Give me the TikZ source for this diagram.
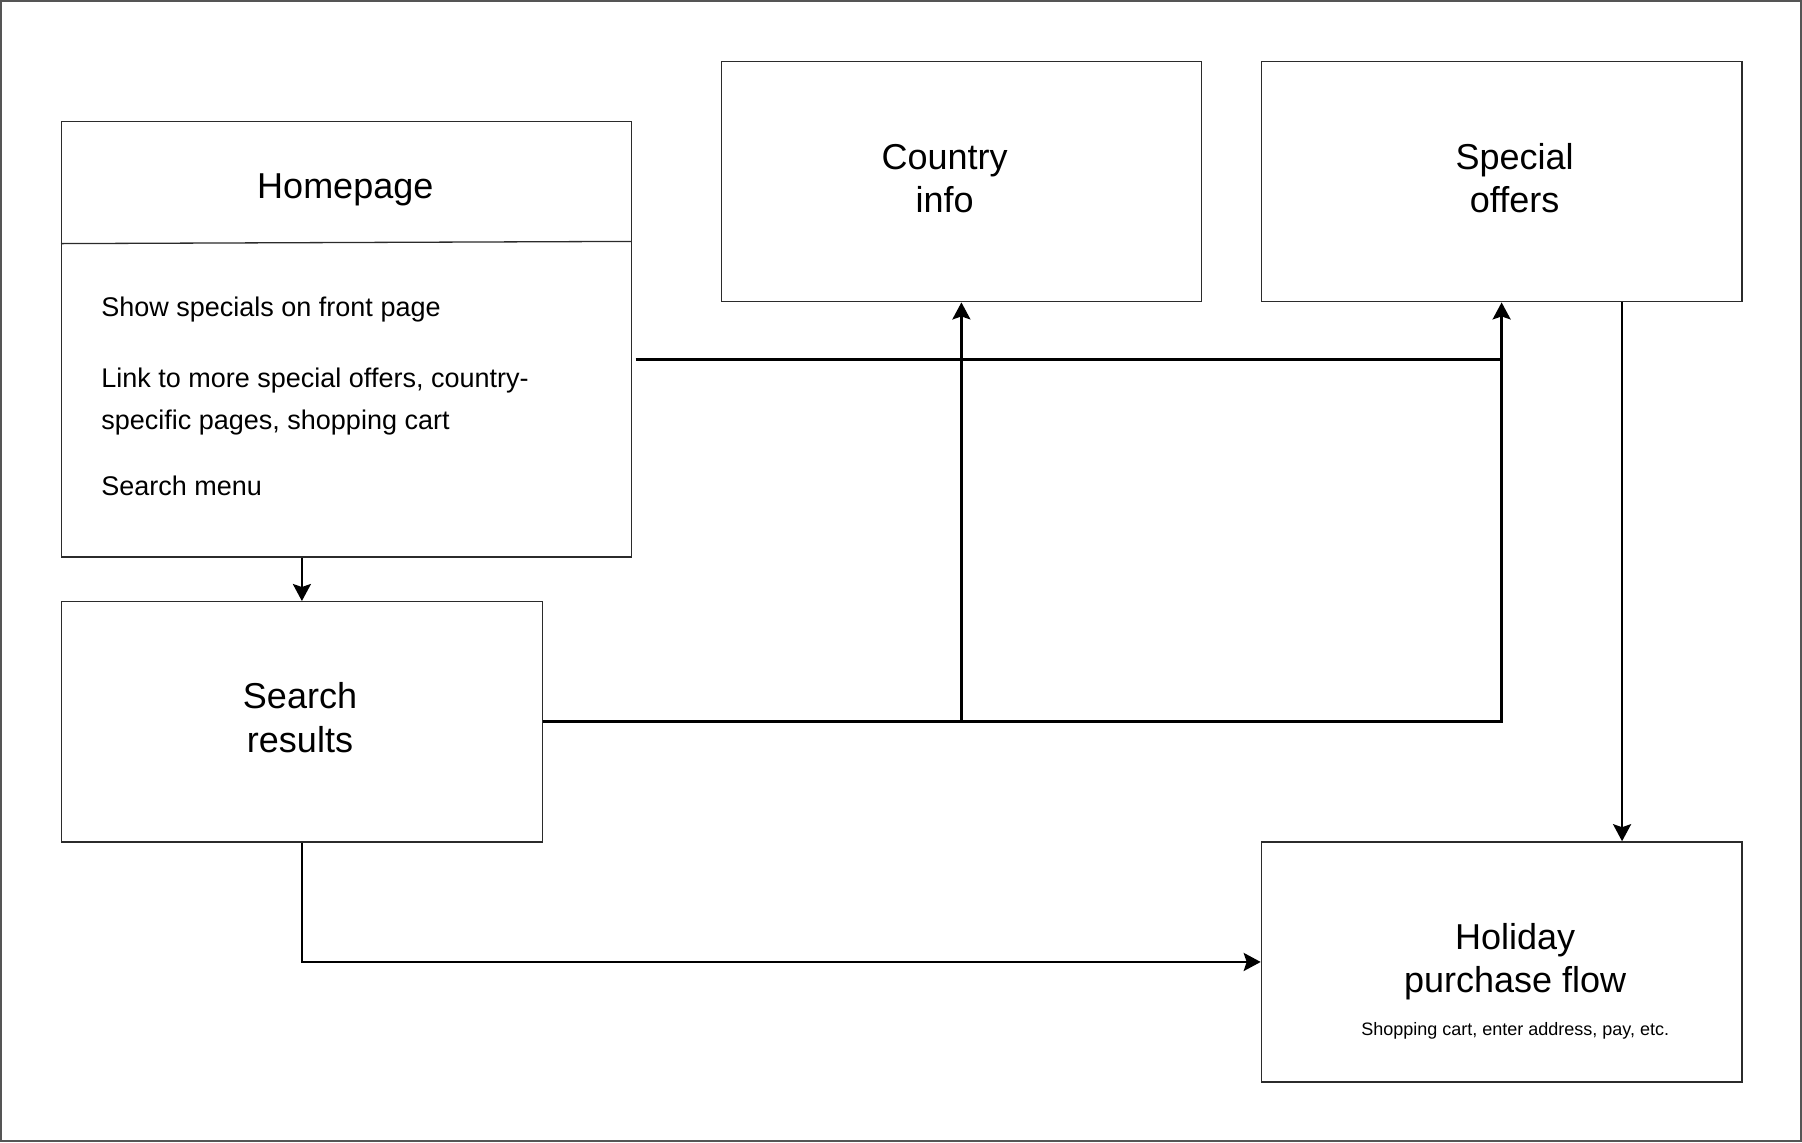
\documentclass[tikz,border=0pt]{standalone}
\usepackage{fontspec}
\setmainfont{Liberation Sans}
\usetikzlibrary{arrows.meta,calc}
\definecolor{boxgray}{HTML}{2B2B2B}
\definecolor{framegray}{HTML}{555555}
\tikzset{
  box/.style={draw=boxgray, line width=0.65pt, inner sep=0pt, anchor=north west, fill=white},
  bigbox/.style={box, minimum width=240.25pt, minimum height=120.1pt},
  title/.style={font=\fontsize{18}{21.6}\selectfont, align=center, inner sep=0pt},
  body/.style={font=\fontsize{13.5}{16}\selectfont, anchor=base west, inner sep=0pt},
  small/.style={font=\fontsize{9}{11}\selectfont, inner sep=0pt},
  conn/.style={draw=black, line width=1.3pt},
  arr/.style={conn, -{Stealth[length=8.5pt,width=9pt,inset=1.5pt]}}
}
\begin{document}
\begin{tikzpicture}[x=0.5pt,y=-0.5pt]
\useasboundingbox (0,0) rectangle (1802,1142);
\draw[framegray, line width=1pt] (1,1) rectangle (1801,1141);

% boxes
\node[box, minimum width=285pt, minimum height=217.75pt] (home) at (61,120.7) {};
\draw[boxgray, line width=0.65pt] (61,243.6) -- (631,241.4);
\node[bigbox] (country) at (720.5,60.9) {};
\node[bigbox] (special) at (1260.7,60.9) {};
\node[bigbox] (search) at (61,601) {};
\node[bigbox] (holiday) at (1260.7,841.2) {};

% texts
\node[title] (hometitle) at (345.3,189.6) {Homepage};
\node[body] (l1) at (101,316.1) {Show specials on front page};
\node[body] (l2) at (101,387.3) {Link to more special offers, country-};
\node[body] (l3) at (101,429.8) {specific pages, shopping cart};
\node[body] (l4) at (101,495.8) {Search menu};
\node[title] (countrytext) at (944.6,178.2) {Country\\info};
\node[title] (specialtext) at (1514.6,178.2) {Special\\offers};
\node[title] (searchtext) at (300,717.7) {Search\\results};
\node[title] (holidaytext) at (1515.2,961.3) {Holiday\\purchase flow};
\node[small] (holidaysub) at (1515.2,1030.8) {Shopping cart, enter address, pay, etc.};

% connectors
\coordinate (hs) at (635.5,359.7);
\coordinate (sx) at ($(special.south)!0.5!(special.south east)$);
\draw[arr] (search.north |- home.south) -- (search.north);
\draw[conn] (hs) -- (hs -| special.south);
\draw[arr] (search.east) -| (special.south);
\draw[arr] (search.east -| country.south) -- (country.south);
\draw[arr] (sx) -- (sx |- holiday.north);
\draw[arr] (search.south) |- (holiday.west);
\end{tikzpicture}
\end{document}
